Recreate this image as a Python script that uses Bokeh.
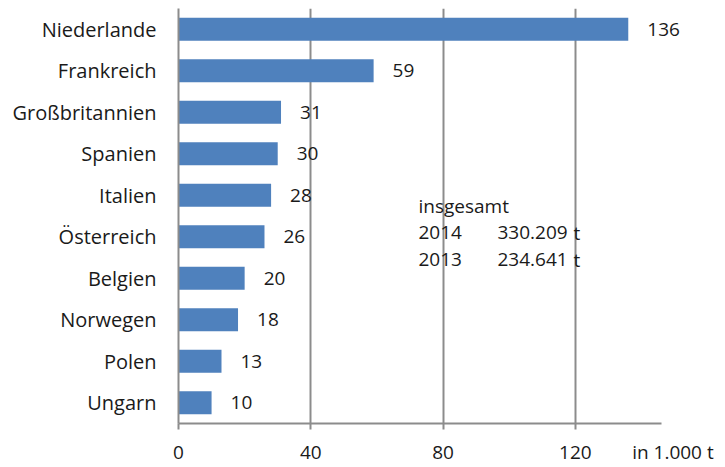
from bokeh.plotting import figure
from bokeh.models import ColumnDataSource, Range1d, FactorRange, Label, FixedTicker, LinearAxis
from bokeh.core.properties import value
from bokeh.embed import file_html
from bokeh.resources import INLINE

countries = ["Niederlande", "Frankreich", "Großbritannien", "Spanien", "Italien",
             "Österreich", "Belgien", "Norwegen", "Polen", "Ungarn"]
values = [136, 59, 31, 30, 28, 26, 20, 18, 13, 10]
x_ticks = [0, 40, 80, 120]
unit_label = "in 1.000 t"
summary_lines = ["insgesamt", "2014", "2013"]
summary_values = ["330.209", "234.641"]

FONT = "Open Sans"
TXT = "#1a1a1a"
GREY = "#8c8c8c"
UNIT_POS = 149.5
src = ColumnDataSource(dict(country=countries, val=values, lab=[str(v) for v in values]))

p = figure(width=725, height=467, output_backend="svg", toolbar_location=None,
           y_range=FactorRange(factors=list(reversed(countries))),
           x_range=Range1d(0, 165.4),
           min_border_left=178, min_border_right=0, min_border_top=8, min_border_bottom=40)
p.outline_line_color = None
p.background_fill_color = "white"

p.hbar(y="country", right="val", left=0, height=0.55, source=src,
       fill_color="#4F81BD", line_color=None)
p.text(x="val", y="country", text="lab", source=src, x_offset=19,
       text_baseline="middle", text_align="left", text_font=value(FONT),
       text_font_size="19px", text_color=TXT)

# axis line + ticks (nearest to frame)
ax1 = p.below[0]
ax1.ticker = FixedTicker(ticks=x_ticks)
ax1.bounds = (0, 146)
ax1.axis_line_color = GREY
ax1.axis_line_width = 2
ax1.major_tick_line_color = GREY
ax1.major_tick_line_width = 2
ax1.major_tick_out = 6
ax1.major_tick_in = 0
ax1.minor_tick_line_color = None
ax1.major_label_text_font_size = "0px"
ax1.major_label_text_color = None
ax1.major_label_standoff = 0

# tick labels + unit
ax2 = LinearAxis(ticker=FixedTicker(ticks=x_ticks + [UNIT_POS]),
                 major_label_overrides={UNIT_POS: unit_label})
ax2.axis_line_color = None
ax2.major_tick_line_color = None
ax2.minor_tick_line_color = None
ax2.major_tick_out = 0
ax2.major_tick_in = 0
ax2.major_label_text_font = FONT
ax2.major_label_text_font_size = "19px"
ax2.major_label_text_color = TXT
ax2.major_label_text_line_height = 0.7
ax2.major_label_standoff = 9
p.add_layout(ax2, "below")

p.yaxis.axis_line_color = GREY
p.yaxis.axis_line_width = 2
p.yaxis.major_tick_line_color = None
p.yaxis.minor_tick_line_color = None
p.yaxis.major_label_text_font = FONT
p.yaxis.major_label_text_font_size = "20px"
p.yaxis.major_label_text_color = TXT
p.yaxis.major_label_standoff = 16

p.xgrid.ticker = FixedTicker(ticks=x_ticks[1:])
p.xgrid.grid_line_color = GREY
p.xgrid.grid_line_width = 2
p.ygrid.grid_line_color = None

# summary box
ys = [218, 191, 164]
p.add_layout(Label(x=240, y=ys[0], x_units="screen", y_units="screen", text=summary_lines[0],
                   text_font=FONT, text_font_size="19px", text_color=TXT,
                   text_baseline="alphabetic"))
for i in range(2):
    for xx, t in [(240, summary_lines[i + 1]), (319, summary_values[i]), (395, "t")]:
        p.add_layout(Label(x=xx, y=ys[i + 1], x_units="screen", y_units="screen", text=t,
                           text_font=FONT, text_font_size="19px", text_color=TXT,
                           text_baseline="alphabetic"))

open("out.html", "w").write(file_html(p, INLINE))
